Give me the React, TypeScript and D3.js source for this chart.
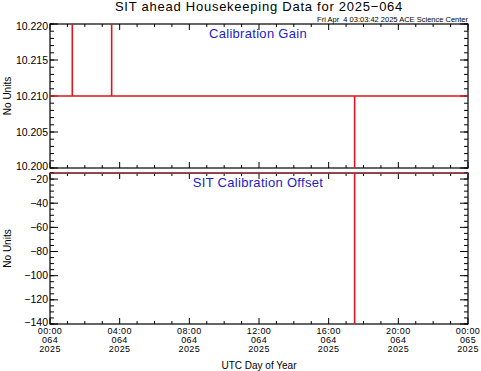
import React from "react";
import * as d3 from "d3";

const W = 481, H = 371;
const X0 = 50, X1 = 468;
const TOP = { y0: 24, y1: 168 };
const BOT = { y0: 173, y1: 324 };

const xHours = [0, 4, 8, 12, 16, 20, 24];
const xLine1 = ["00:00", "04:00", "08:00", "12:00", "16:00", "20:00", "00:00"];
const xLine2 = ["064", "064", "064", "064", "064", "064", "065"];
const xLine3 = ["2025", "2025", "2025", "2025", "2025", "2025", "2025"];

const gainTicks = [10.2, 10.205, 10.21, 10.215, 10.22];
const gainLabels = ["10.200", "10.205", "10.210", "10.215", "10.220"];
const offsetTicks = [-140, -120, -100, -80, -60, -40, -20];

const gainHours = [0, 1.28, 1.28, 1.28, 3.54, 3.54, 3.54, 17.49, 17.49, 17.49, 24];
const gainValues = [10.21, 10.21, 10.25, 10.21, 10.21, 10.25, 10.21, 10.21, 10.17, 10.21, 10.21];
const offsetHours = [0, 17.49, 17.49, 17.49, 24];
const offsetValues = [-15, -15, -300, -15, -15];

const font = "'Liberation Sans', Arial, sans-serif";
const red = "#e0141e";

export default function App() {
  const x = d3.scaleLinear().domain([0, 24]).range([X0, X1]);
  const yG = d3.scaleLinear().domain([10.2, 10.22]).range([TOP.y1, TOP.y0]);
  const yO = d3.scaleLinear().domain([-140, -15]).range([BOT.y1, BOT.y0]);
  const minorX = d3.range(0, 25, 1);
  const minorG = d3.range(0, 21).map((i) => 10.2 + i * 0.001);
  const minorO = d3.range(-140, -14, 5);

  const lineG = d3.line<number>().x((_, i) => x(gainHours[i])).y((v) => yG(v));
  const lineO = d3.line<number>().x((_, i) => x(offsetHours[i])).y((v) => yO(v));

  const panel = (y0: number, y1: number, y: any, majors: number[], minors: number[], labels: string[], clipId: string, path: string, title: string) => (
    <g>
      <defs>
        <clipPath id={clipId}>
          <rect x={X0} y={y0} width={X1 - X0} height={y1 - y0} />
        </clipPath>
      </defs>
      {minors.map((v, i) => (
        <g key={"m" + i}>
          <line x1={X0} x2={X0 + 4} y1={y(v)} y2={y(v)} stroke="#000" />
          <line x1={X1} x2={X1 - 4} y1={y(v)} y2={y(v)} stroke="#000" />
        </g>
      ))}
      {majors.map((v, i) => {
        const py = y(v);
        const dy = py - y0 < 3 ? 6 : y1 - py < 3 ? 1.5 : 3.5;
        return (
          <g key={"M" + i}>
            <line x1={X0} x2={X0 + 8} y1={py} y2={py} stroke="#000" />
            <line x1={X1} x2={X1 - 8} y1={py} y2={py} stroke="#000" />
            <text x={X0 - 2} y={py + dy} fontSize={10.5} textAnchor="end" fontFamily={font}>{labels[i]}</text>
          </g>
        );
      })}
      {minorX.map((h) => (
        <g key={"x" + h}>
          <line x1={x(h)} x2={x(h)} y1={y1} y2={y1 - (h % 4 === 0 ? 6 : 3)} stroke="#000" />
          <line x1={x(h)} x2={x(h)} y1={y0} y2={y0 + (h % 4 === 0 ? 6 : 3)} stroke="#000" />
        </g>
      ))}
      <rect x={X0} y={y0} width={X1 - X0} height={y1 - y0} fill="none" stroke="#000" strokeWidth={1.2} />
      <path d={path} fill="none" stroke={red} strokeWidth={1.6} clipPath={`url(#${clipId})`} />
      <text x={258} y={y0 + 14} fontSize={13} letterSpacing={0.3} fill="#1c1cc8" textAnchor="middle" fontFamily={font}>{title}</text>
      <text transform={`translate(11,${(y0 + y1) / 2}) rotate(-90)`} fontSize={10} textAnchor="middle" fontFamily={font}>No Units</text>
    </g>
  );

  return (
    <svg width={W} height={H} style={{ position: "absolute", left: 0, top: 0, background: "#fff" }}>
      <rect width={W} height={H} fill="#fff" />
      <text x={259} y={11} fontSize={13} letterSpacing={0.75} textAnchor="middle" fontFamily={font}>SIT ahead Housekeeping Data for 2025−064</text>
      <text x={468} y={22} fontSize={7.5} textAnchor="end" fontFamily={font} xmlSpace="preserve">Fri Apr  4 03:03:42 2025 ACE Science Center</text>
      {panel(TOP.y0, TOP.y1, yG, gainTicks, minorG, gainLabels, "clipG", lineG(gainValues) || "", "Calibration Gain")}
      {panel(BOT.y0, BOT.y1, yO, offsetTicks, minorO, offsetTicks.map((v) => String(v).replace("-", "−")), "clipO", lineO(offsetValues) || "", "SIT Calibration Offset")}
      {xHours.map((h, i) => (
        <g key={"xl" + i} fontFamily={font} fontSize={9} letterSpacing={0.4} textAnchor="middle">
          <text x={x(h)} y={334}>{xLine1[i]}</text>
          <text x={x(h)} y={343}>{xLine2[i]}</text>
          <text x={x(h)} y={352}>{xLine3[i]}</text>
        </g>
      ))}
      <text x={259} y={369} fontSize={10} textAnchor="middle" fontFamily={font}>UTC Day of Year</text>
    </svg>
  );
}
